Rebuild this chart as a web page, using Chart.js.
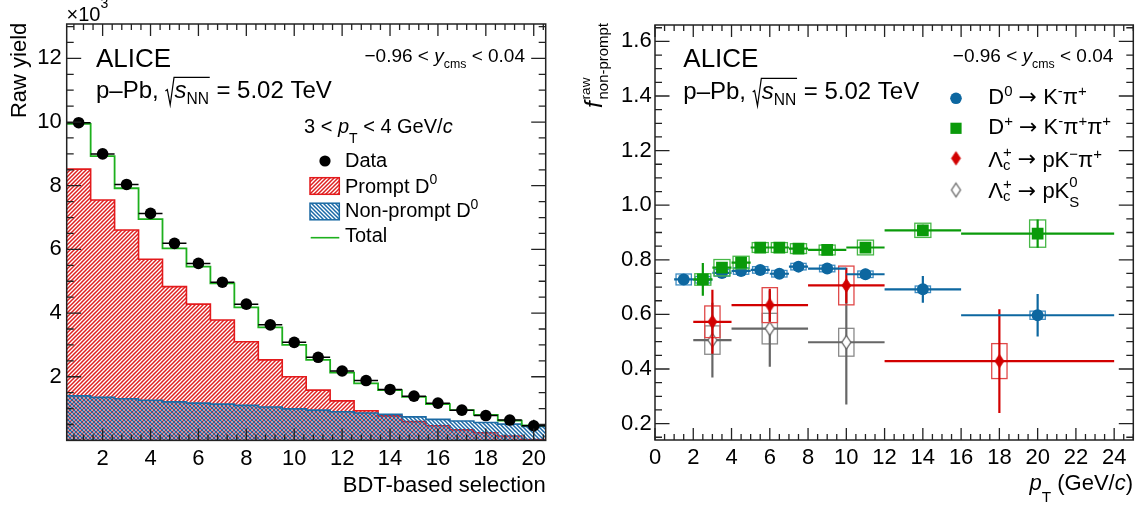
<!DOCTYPE html>
<html>
<head>
<meta charset="utf-8">
<title>Raw yield vs BDT selection and raw non-prompt fraction</title>
<script src="https://cdn.jsdelivr.net/npm/chart.js@4.4.1/dist/chart.umd.min.js"></script>
<style>
  html, body { margin: 0; padding: 0; background: #fff; width: 1142px; height: 506px; overflow: hidden; }
  #cl { position: absolute; left: 0; top: 0; }
  #cr { position: absolute; left: 570px; top: 0; }
</style>
</head>
<body>
<canvas id="cl" width="570" height="506"></canvas>
<canvas id="cr" width="572" height="506"></canvas>
<script>
// ---------------- Left panel: raw yield (x10^3) per BDT-based selection ----------------
const bdtBins        = [1, 2, 3, 4, 5, 6, 7, 8, 9, 10, 11, 12, 13, 14, 15, 16, 17, 18, 19, 20];
const rawYieldData   = [9.98, 9.00, 8.04, 7.13, 6.19, 5.56, 4.97, 4.28, 3.63, 3.08, 2.61, 2.18, 1.88, 1.60, 1.39, 1.17, 0.95, 0.78, 0.64, 0.46];
const rawYieldErr    = [0.12, 0.12, 0.12, 0.11, 0.11, 0.11, 0.10, 0.10, 0.10, 0.10, 0.09, 0.09, 0.09, 0.09, 0.09, 0.09, 0.10, 0.12, 0.15, 0.19];
const promptYield    = [8.52, 7.55, 6.61, 5.69, 4.83, 4.28, 3.78, 3.10, 2.53, 2.00, 1.58, 1.24, 0.93, 0.77, 0.59, 0.46, 0.33, 0.24, 0.14, 0.03];
const nonPromptYield = [1.40, 1.35, 1.31, 1.26, 1.21, 1.17, 1.14, 1.10, 1.05, 0.99, 0.95, 0.90, 0.86, 0.82, 0.74, 0.66, 0.61, 0.56, 0.51, 0.44];
const totalYield     = [9.94, 8.93, 7.92, 6.95, 6.03, 5.46, 4.93, 4.18, 3.55, 3.00, 2.53, 2.13, 1.79, 1.58, 1.37, 1.14, 0.95, 0.80, 0.62, 0.47];
const leftXTicks = [2, 4, 6, 8, 10, 12, 14, 16, 18, 20];
const leftYTicks = [2, 4, 6, 8, 10, 12];

// ---------------- Right panel: raw non-prompt fraction vs pT ----------------
const d0Pt    = [1.5, 2.5, 3.5, 4.5, 5.5, 6.5, 7.5, 9, 11, 14, 20];
const d0PtLo  = [1, 2, 3, 4, 5, 6, 7, 8, 10, 12, 16];
const d0PtHi  = [2, 3, 4, 5, 6, 7, 8, 10, 12, 16, 24];
const d0Fnp   = [0.728, 0.727, 0.752, 0.759, 0.763, 0.749, 0.775, 0.768, 0.747, 0.692, 0.597];
const d0Stat  = [0.010, 0.010, 0.010, 0.010, 0.010, 0.010, 0.010, 0.012, 0.020, 0.049, 0.078];
const d0Syst  = [0.020, 0.012, 0.012, 0.012, 0.012, 0.012, 0.012, 0.012, 0.012, 0.012, 0.015];

const dpPt    = [2.5, 3.5, 4.5, 5.5, 6.5, 7.5, 9, 11, 14, 20];
const dpPtLo  = [2, 3, 4, 5, 6, 7, 8, 10, 12, 16];
const dpPtHi  = [3, 4, 5, 6, 7, 8, 10, 12, 16, 24];
const dpFnp   = [0.728, 0.771, 0.790, 0.845, 0.845, 0.841, 0.836, 0.845, 0.908, 0.896];
const dpStat  = [0.060, 0.015, 0.012, 0.010, 0.010, 0.010, 0.010, 0.012, 0.020, 0.052];
const dpSyst  = [0.021, 0.030, 0.023, 0.018, 0.018, 0.018, 0.018, 0.027, 0.026, 0.050];

const lcKpiPt   = [3, 6, 10, 18];
const lcKpiPtLo = [2, 4, 8, 12];
const lcKpiPtHi = [4, 8, 12, 24];
const lcKpiFnp  = [0.573, 0.634, 0.706, 0.429];
const lcKpiStat = [0.117, 0.060, 0.065, 0.190];
const lcKpiSyst = [0.058, 0.064, 0.071, 0.064];

const lcK0sPt   = [3, 6, 10];
const lcK0sPtLo = [2, 4, 8];
const lcK0sPtHi = [4, 8, 12];
const lcK0sFnp  = [0.506, 0.548, 0.498];
const lcK0sStat = [0.137, 0.140, 0.228];
const lcK0sSyst = [0.052, 0.056, 0.051];

const rightXTicks = [0, 2, 4, 6, 8, 10, 12, 14, 16, 18, 20, 22, 24];
const rightYTicks = [0.2, 0.4, 0.6, 0.8, 1.0, 1.2, 1.4, 1.6];

// ---------------- styling helpers ----------------
const FAM = '"Liberation Sans", Arial, Helvetica, sans-serif';
const C_D0 = '#0d67a0', C_D0_BOX = '#3d8cc2';
const C_DP = '#0a9a0a', C_DP_BOX = '#48b848';
const C_LKPI = '#d20000', C_LKPI_BOX = '#e04848';
const C_LK0S = '#666666', C_LK0S_BOX = '#8a8a8a';
const C_PROMPT_LINE = '#e31a1c', C_PROMPT_HATCH = '#de2020';
const C_NONPROMPT_LINE = '#1b6aa4', C_NONPROMPT_HATCH = '#1a68a6';
const C_TOTAL = '#1db01d';

function hatch(color, forward) {
  const s = 4;
  const c = document.createElement('canvas');
  c.width = s; c.height = s;
  const g = c.getContext('2d');
  g.strokeStyle = color; g.lineWidth = 1.5;
  g.beginPath();
  if (forward) {
    g.moveTo(0, s); g.lineTo(s, 0);
    g.moveTo(-1, 1); g.lineTo(1, -1);
    g.moveTo(s - 1, s + 1); g.lineTo(s + 1, s - 1);
  } else {
    g.moveTo(0, 0); g.lineTo(s, s);
    g.moveTo(-1, s - 1); g.lineTo(1, s + 1);
    g.moveTo(s - 1, -1); g.lineTo(s + 1, 1);
  }
  g.stroke();
  return g.createPattern(c, 'repeat');
}

function diamond(w, h, fill, stroke, lw) {
  const c = document.createElement('canvas');
  const pad = Math.ceil(lw) + 1;
  c.width = w + 2 * pad; c.height = h + 2 * pad;
  const g = c.getContext('2d');
  const cx = c.width / 2, cy = c.height / 2;
  g.beginPath();
  g.moveTo(cx, cy - h / 2); g.lineTo(cx + w / 2, cy); g.lineTo(cx, cy + h / 2); g.lineTo(cx - w / 2, cy); g.closePath();
  g.fillStyle = fill; g.fill();
  if (lw > 0) { g.strokeStyle = stroke; g.lineWidth = lw; g.stroke(); }
  return c;
}
const redDiamond = diamond(9, 13.5, C_LKPI, C_LKPI, 0.8);
const openDiamond = diamond(9, 13.5, '#ffffff', C_LK0S, 1.3);

// bin edges with the bin content; the line is stepped so each bin is flat
function histPoints(centers, values) {
  const pts = centers.map((c, i) => ({ x: c - 0.5, y: values[i] }));
  pts.push({ x: centers[centers.length - 1] + 0.5, y: values[values.length - 1] });
  return pts;
}
function pointsOf(xs, ys) { return xs.map((x, i) => ({ x, y: ys[i] })); }

// rich text: parts are strings or {t, it, s (scale), dy (em offset), fam}, {stack:[..]}, {sqrt:[..]}
function fontOf(p, size) { return (p.it ? 'italic ' : '') + (size * (p.s || 1)).toFixed(2) + 'px ' + (p.fam || FAM); }
function norm(p) { return typeof p === 'string' ? { t: p } : p; }
function partWidth(ctx, p, size) {
  p = norm(p);
  if (p.stack) return Math.max(...p.stack.map(q => partWidth(ctx, q, size)));
  if (p.sqrt) return 0.38 * size + p.sqrt.reduce((a, q) => a + partWidth(ctx, q, size), 0) + 0.03 * size;
  ctx.font = fontOf(p, size);
  return ctx.measureText(p.t).width;
}
function drawParts(ctx, x, y, parts, size) {
  for (let p of parts) {
    p = norm(p);
    if (p.stack) {
      p.stack.forEach(q => drawParts(ctx, x, y, [q], size));
      x += partWidth(ctx, p, size);
      continue;
    }
    if (p.sqrt) {
      const w = partWidth(ctx, p, size);
      ctx.save();
      ctx.lineWidth = 1.2; ctx.lineJoin = 'miter';
      ctx.beginPath();
      ctx.moveTo(x, y - 0.30 * size);
      ctx.lineTo(x + 0.08 * size, y - 0.36 * size);
      ctx.lineTo(x + 0.20 * size, y + 0.27 * size);
      ctx.lineTo(x + 0.36 * size, y - 0.875 * size);
      ctx.lineTo(x + w, y - 0.875 * size);
      ctx.stroke();
      ctx.restore();
      drawParts(ctx, x + 0.38 * size, y, p.sqrt, size);
      x += w;
      continue;
    }
    ctx.font = fontOf(p, size);
    ctx.fillText(p.t, x, y + (p.dy || 0) * size);
    x += ctx.measureText(p.t).width;
  }
}
function richText(ctx, x, y, parts, size, align, rotate) {
  const w = parts.reduce((a, p) => a + partWidth(ctx, p, size), 0);
  ctx.save();
  ctx.fillStyle = '#000'; ctx.strokeStyle = '#000';
  ctx.textBaseline = 'alphabetic'; ctx.textAlign = 'left';
  ctx.translate(x, y);
  if (rotate) ctx.rotate(-Math.PI / 2);
  let x0 = 0;
  if (align === 'right') x0 = -w; else if (align === 'center') x0 = -w / 2;
  drawParts(ctx, x0, 0, parts, size);
  ctx.restore();
}
const sup = (t, o = {}) => Object.assign({ t, s: 0.68, dy: -0.40 }, o);
const sub = (t, o = {}) => Object.assign({ t, s: 0.68, dy: 0.25 }, o);
const ARROW = { t: '→', fam: '"DejaVu Sans", sans-serif', s: 1.0, dy: -0.02 };

// error bars and systematic boxes drawn just before each dataset's markers
const errorPlugin = {
  id: 'errorBars',
  beforeDatasetDraw(chart, args) {
    const ds = chart.data.datasets[args.index];
    const e = ds.err;
    if (!e) return;
    const xs = chart.scales.x, ys = chart.scales.y, ctx = chart.ctx, a = chart.chartArea;
    ctx.save();
    ctx.beginPath(); ctx.rect(a.left, a.top, a.right - a.left, a.bottom - a.top); ctx.clip();
    ds.data.forEach((p, i) => {
      if (e.syst) {
        const x1 = xs.getPixelForValue(p.x - e.boxHalf), x2 = xs.getPixelForValue(p.x + e.boxHalf);
        const y1 = ys.getPixelForValue(p.y + e.syst[i]), y2 = ys.getPixelForValue(p.y - e.syst[i]);
        ctx.strokeStyle = e.boxColor; ctx.lineWidth = 1.3;
        ctx.strokeRect(x1, y1, x2 - x1, y2 - y1);
      }
      ctx.strokeStyle = e.color; ctx.lineWidth = e.width;
      ctx.beginPath();
      const py = ys.getPixelForValue(p.y), px = xs.getPixelForValue(p.x);
      ctx.moveTo(xs.getPixelForValue(e.lo ? e.lo[i] : p.x - e.half), py);
      ctx.lineTo(xs.getPixelForValue(e.hi ? e.hi[i] : p.x + e.half), py);
      ctx.moveTo(px, ys.getPixelForValue(p.y - e.stat[i]));
      ctx.lineTo(px, ys.getPixelForValue(p.y + e.stat[i]));
      ctx.stroke();
    });
    ctx.restore();
  }
};

// frame with inward ticks on all four sides
function framePlugin(cfg) {
  return {
    id: 'frameTicks',
    afterDatasetsDraw(chart) {
      const ctx = chart.ctx, a = chart.chartArea, xs = chart.scales.x, ys = chart.scales.y;
      ctx.save();
      ctx.strokeStyle = '#222'; ctx.lineWidth = 1.5;
      ctx.strokeRect(a.left, a.top, a.right - a.left, a.bottom - a.top);
      ctx.lineWidth = 1.3;
      ctx.beginPath();
      const eps = 1e-6;
      const xMin = xs.min, xMax = xs.max, yMin = ys.min, yMax = ys.max;
      for (let v = cfg.xMajor0 - 10 * cfg.xMinor; v <= xMax + eps; v += cfg.xMinor) {
        if (v < xMin - eps) continue;
        const k = Math.round((v - cfg.xMajor0) / cfg.xMinor);
        const major = ((k % cfg.xSub) + cfg.xSub) % cfg.xSub === 0;
        const L = major ? cfg.xMajLen : cfg.xMinLen;
        const px = xs.getPixelForValue(v);
        ctx.moveTo(px, a.bottom); ctx.lineTo(px, a.bottom - L);
        ctx.moveTo(px, a.top); ctx.lineTo(px, a.top + L);
      }
      for (let v = cfg.yMajor0 - 10 * cfg.yMinor; v <= yMax + eps; v += cfg.yMinor) {
        if (v < yMin - eps) continue;
        const k = Math.round((v - cfg.yMajor0) / cfg.yMinor);
        const major = ((k % cfg.ySub) + cfg.ySub) % cfg.ySub === 0;
        const L = major ? cfg.yMajLen : cfg.yMinLen;
        const py = ys.getPixelForValue(v);
        ctx.moveTo(a.left, py); ctx.lineTo(a.left + L, py);
        ctx.moveTo(a.right, py); ctx.lineTo(a.right - L, py);
      }
      ctx.stroke();
      ctx.restore();
    }
  };
}

function tickFont() { return { family: FAM, size: 22 }; }
function baseOptions() {
  return {
    responsive: false,
    animation: false,
    events: [],
    plugins: { legend: { display: false }, tooltip: { enabled: false } },
  };
}

// ---------------- left chart ----------------
const leftAnnotations = {
  id: 'leftText',
  afterDraw(chart) {
    const ctx = chart.ctx;
    richText(ctx, 66.5, 20.7, ['×10', sup('3', { s: 0.7, dy: -0.62 })], 20, 'left');
    richText(ctx, 26, 22.7, ['Raw yield'], 22, 'right', true);
    richText(ctx, 96, 66.7, ['ALICE'], 26, 'left');
    richText(ctx, 96, 98.3, ['p–Pb, ', { sqrt: [{ t: 's', it: 1 }, sub('NN', { s: 0.65, dy: 0.24 })] }, ' = 5.02 TeV'], 24, 'left');
    richText(ctx, 525, 62, ['−0.96 < ', { t: 'y', it: 1 }, sub('cms', { s: 0.65, dy: 0.32 }), ' < 0.04'], 19, 'right');
    richText(ctx, 304, 132.7, ['3 < ', { t: 'p', it: 1 }, sub('T', { s: 0.7, dy: 0.5 }), ' < 4 GeV/', { t: 'c', it: 1 }], 20, 'left');
    richText(ctx, 545.7, 492, ['BDT-based selection'], 22, 'right');

    // legend
    ctx.save();
    ctx.fillStyle = '#000';
    ctx.beginPath(); ctx.arc(325, 161, 5.6, 0, 2 * Math.PI); ctx.fill();
    ctx.fillStyle = hatch(C_PROMPT_HATCH, true);
    ctx.fillRect(310, 177.7, 29.3, 16.6);
    ctx.strokeStyle = C_PROMPT_LINE; ctx.lineWidth = 1.5;
    ctx.strokeRect(310, 177.7, 29.3, 16.6);
    ctx.fillStyle = hatch(C_NONPROMPT_HATCH, false);
    ctx.fillRect(310, 203.2, 29.3, 16.6);
    ctx.strokeStyle = C_NONPROMPT_LINE;
    ctx.strokeRect(310, 203.2, 29.3, 16.6);
    ctx.strokeStyle = C_TOTAL; ctx.lineWidth = 1.6;
    ctx.beginPath(); ctx.moveTo(310.7, 237.7); ctx.lineTo(339.3, 237.7); ctx.stroke();
    ctx.restore();
    richText(ctx, 345, 167.3, ['Data'], 20, 'left');
    richText(ctx, 345, 192.7, ['Prompt D', sup('0', { s: 0.7, dy: -0.43 })], 20, 'left');
    richText(ctx, 345, 217.3, ['Non-prompt D', sup('0', { s: 0.7, dy: -0.43 })], 20, 'left');
    richText(ctx, 345, 242.3, ['Total'], 20, 'left');
  }
};

new Chart(document.getElementById('cl'), {
  type: 'line',
  data: {
    datasets: [
      {
        label: 'Prompt D0', data: histPoints(bdtBins, promptYield), stepped: 'before',
        borderColor: C_PROMPT_LINE, borderWidth: 1.6, backgroundColor: hatch(C_PROMPT_HATCH, true),
        fill: 'origin', pointRadius: 0, order: 4
      },
      {
        label: 'Non-prompt D0', data: histPoints(bdtBins, nonPromptYield), stepped: 'before',
        borderColor: C_NONPROMPT_LINE, borderWidth: 1.6, backgroundColor: hatch(C_NONPROMPT_HATCH, false),
        fill: 'origin', pointRadius: 0, order: 3
      },
      {
        label: 'Total', data: histPoints(bdtBins, totalYield), stepped: 'before',
        borderColor: C_TOTAL, borderWidth: 1.8, fill: false, pointRadius: 0, order: 2
      },
      {
        label: 'Data', data: pointsOf(bdtBins, rawYieldData), showLine: false,
        pointRadius: 5.8, pointBackgroundColor: '#000', pointBorderColor: '#000', pointBorderWidth: 0,
        order: 1,
        err: { half: 0.5, stat: rawYieldErr, color: '#000', width: 1.5 }
      }
    ]
  },
  options: Object.assign(baseOptions(), {
    layout: { padding: { left: 0, top: 24, right: 24.3, bottom: 0 } },
    scales: {
      x: {
        type: 'linear', min: 0.5, max: 20.5,
        grid: { display: false, drawTicks: false }, border: { display: false },
        afterBuildTicks: s => { s.ticks = leftXTicks.map(v => ({ value: v })); },
        afterFit: s => { s.height = 65.6; },
        ticks: { font: tickFont(), color: '#000', padding: 5, autoSkip: false, maxRotation: 0, callback: v => String(v) }
      },
      y: {
        type: 'linear', min: 0, max: 13.08,
        grid: { display: false, drawTicks: false }, border: { display: false },
        afterBuildTicks: s => { s.ticks = leftYTicks.map(v => ({ value: v })); },
        afterFit: s => { s.width = 66.7; },
        ticks: { font: tickFont(), color: '#000', padding: 5, autoSkip: false, callback: v => String(v) }
      }
    }
  }),
  plugins: [errorPlugin, framePlugin({
    xMajor0: 2, xMinor: 0.4, xSub: 5, xMajLen: 12, xMinLen: 6,
    yMajor0: 0, yMinor: 0.5, ySub: 4, yMajLen: 14.5, yMinLen: 7
  }), leftAnnotations]
});

// ---------------- right chart ----------------
const rightAnnotations = {
  id: 'rightText',
  afterDraw(chart) {
    const ctx = chart.ctx;
    richText(ctx, 32, 23, [{ t: 'f', it: 1, s: 1.1 }, { t: ' ', s: 0.3 }, { stack: [sup('raw', { s: 0.62, dy: -0.55 }), sub('non-prompt', { s: 0.68, dy: 0.28 })] }], 22, 'right', true);
    richText(ctx, 113.3, 66.7, ['ALICE'], 26, 'left');
    richText(ctx, 113.3, 99.3, ['p–Pb, ', { sqrt: [{ t: 's', it: 1 }, sub('NN', { s: 0.65, dy: 0.24 })] }, ' = 5.02 TeV'], 24, 'left');
    richText(ctx, 543.3, 62, ['−0.96 < ', { t: 'y', it: 1 }, sub('cms', { s: 0.65, dy: 0.32 }), ' < 0.04'], 19, 'right');
    richText(ctx, 563, 490, [{ t: 'p', it: 1 }, sub('T', { s: 0.7, dy: 0.55 }), ' (GeV/', { t: 'c', it: 1 }, ')'], 22, 'right');

    // legend markers
    const mx = 386;
    ctx.save();
    ctx.fillStyle = C_D0;
    ctx.beginPath(); ctx.arc(mx, 98.3, 5.8, 0, 2 * Math.PI); ctx.fill();
    ctx.fillStyle = C_DP;
    ctx.fillRect(mx - 5.6, 128.3 - 5.6, 11.2, 11.2);
    ctx.drawImage(redDiamond, mx - redDiamond.width / 2, 158.3 - redDiamond.height / 2);
    ctx.drawImage(openDiamond, mx - openDiamond.width / 2, 190 - openDiamond.height / 2);
    ctx.restore();

    const lx = 418.3;
    const sp = (t) => sup(t, { s: 0.68, dy: -0.36 });
    richText(ctx, lx, 104, ['D', sp('0'), ' ', ARROW, ' K', sp('-'), 'π', sp('+')], 22, 'left');
    richText(ctx, lx, 134, ['D', sp('+'), ' ', ARROW, ' K', sp('-'), 'π', sp('+'), 'π', sp('+')], 22, 'left');
    richText(ctx, lx, 166.7, ['Λ', { stack: [sup('+', { s: 0.68, dy: -0.42 }), sub('c', { s: 0.68, dy: 0.15 })] }, ' ', ARROW, ' pK', sp('−'), 'π', sp('+')], 22, 'left');
    richText(ctx, lx, 198, ['Λ', { stack: [sup('+', { s: 0.68, dy: -0.42 }), sub('c', { s: 0.68, dy: 0.15 })] }, ' ', ARROW, ' pK', { stack: [sup('0', { s: 0.68, dy: -0.5 }), sub('S', { s: 0.68, dy: 0.42 })] }], 22, 'left');
  }
};

new Chart(document.getElementById('cr'), {
  type: 'line',
  data: {
    datasets: [
      {
        label: 'Λc+ → pK0S', data: pointsOf(lcK0sPt, lcK0sFnp), showLine: false,
        pointStyle: openDiamond, pointRadius: 7, order: 4,
        err: { lo: lcK0sPtLo, hi: lcK0sPtHi, stat: lcK0sStat, syst: lcK0sSyst, boxHalf: 0.4, boxColor: C_LK0S_BOX, color: C_LK0S, width: 2.2 }
      },
      {
        label: 'Λc+ → pK−π+', data: pointsOf(lcKpiPt, lcKpiFnp), showLine: false,
        pointStyle: redDiamond, pointRadius: 7, order: 3,
        err: { lo: lcKpiPtLo, hi: lcKpiPtHi, stat: lcKpiStat, syst: lcKpiSyst, boxHalf: 0.4, boxColor: C_LKPI_BOX, color: C_LKPI, width: 2.2 }
      },
      {
        label: 'D0 → K−π+', data: pointsOf(d0Pt, d0Fnp), showLine: false,
        pointStyle: 'circle', pointRadius: 6, pointBackgroundColor: C_D0, pointBorderColor: C_D0, pointBorderWidth: 0, order: 2,
        err: { lo: d0PtLo, hi: d0PtHi, stat: d0Stat, syst: d0Syst, boxHalf: 0.4, boxColor: C_D0_BOX, color: C_D0, width: 2.2 }
      },
      {
        label: 'D+ → K−π+π+', data: pointsOf(dpPt, dpFnp), showLine: false,
        pointStyle: 'rect', pointRadius: 8.3, pointBackgroundColor: C_DP, pointBorderColor: C_DP, pointBorderWidth: 0, order: 1,
        err: { lo: dpPtLo, hi: dpPtHi, stat: dpStat, syst: dpSyst, boxHalf: 0.42, boxColor: C_DP_BOX, color: C_DP, width: 2.2 }
      }
    ]
  },
  options: Object.assign(baseOptions(), {
    layout: { padding: { left: 0, top: 25, right: 8.7, bottom: 0 } },
    scales: {
      x: {
        type: 'linear', min: 0, max: 25,
        grid: { display: false, drawTicks: false }, border: { display: false },
        afterBuildTicks: s => { s.ticks = rightXTicks.map(v => ({ value: v })); },
        afterFit: s => { s.height = 66; },
        ticks: { font: tickFont(), color: '#000', padding: 5, autoSkip: false, maxRotation: 0, callback: v => String(v) }
      },
      y: {
        type: 'linear', min: 0.14, max: 1.66,
        grid: { display: false, drawTicks: false }, border: { display: false },
        afterBuildTicks: s => { s.ticks = rightYTicks.map(v => ({ value: v })); },
        afterFit: s => { s.width = 85; },
        ticks: { font: tickFont(), color: '#000', padding: 3.3, autoSkip: false, callback: v => Number(v).toFixed(1) }
      }
    }
  }),
  plugins: [errorPlugin, framePlugin({
    xMajor0: 0, xMinor: 0.5, xSub: 4, xMajLen: 12, xMinLen: 6,
    yMajor0: 0.2, yMinor: 0.05, ySub: 4, yMajLen: 14.5, yMinLen: 7
  }), rightAnnotations]
});
</script>
</body>
</html>
